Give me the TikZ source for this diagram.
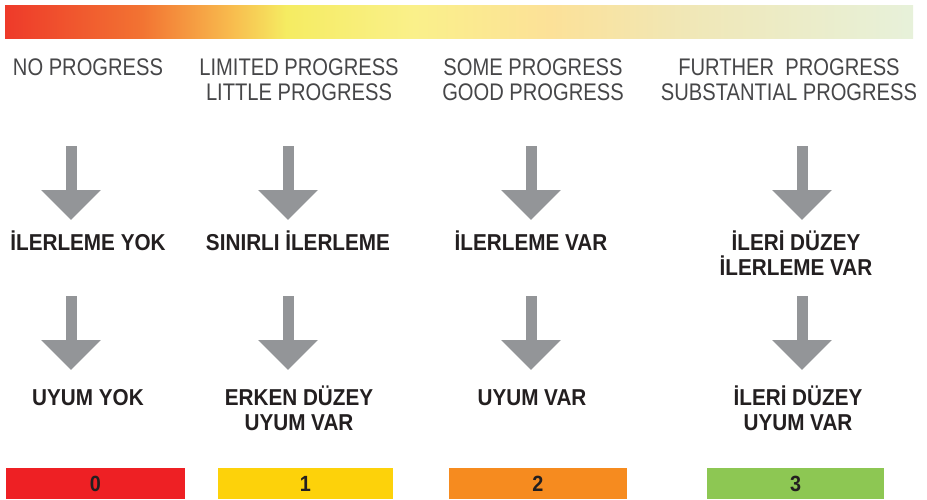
\documentclass[tikz,border=0pt]{standalone}
\usepackage{fontspec}
\setmainfont{Liberation Sans}
\newfontfamily\capfont[FakeStretch=0.84]{Liberation Sans}
\newfontfamily\labfont[FakeStretch=0.9]{Liberation Sans}
\usetikzlibrary{arrows.meta}
\definecolor{capgray}{RGB}{70,70,72}
\definecolor{labblack}{RGB}{35,31,32}
\definecolor{arrowgray}{RGB}{147,149,152}
\definecolor{score0}{RGB}{238,32,36}
\definecolor{score1}{RGB}{253,210,10}
\definecolor{score2}{RGB}{246,139,31}
\definecolor{score3}{RGB}{141,199,83}
\definecolor{gradA}{RGB}{238,58,42}
\definecolor{gradB}{RGB}{242,115,50}
\definecolor{gradC}{RGB}{248,188,78}
\definecolor{gradD}{RGB}{245,236,98}
\definecolor{gradE}{RGB}{250,240,138}
\definecolor{gradF}{RGB}{252,225,152}
\definecolor{gradG}{RGB}{240,231,182}
\definecolor{gradH}{RGB}{231,241,218}
\pgfdeclarehorizontalshading{progress}{100bp}{color(0bp)=(gradA); color(25bp)=(gradA);
  color(32.5bp)=(gradB); color(37.5bp)=(gradC); color(40.5bp)=(gradD); color(47.5bp)=(gradE);
  color(55bp)=(gradF); color(62.5bp)=(gradG); color(75bp)=(gradH); color(100bp)=(gradH)}
\tikzset{%
	caption/.style={
		font=\capfont\fontsize{24}{25}\selectfont,
		text=capgray,
		align=center,
		inner sep=0pt,
		anchor=base
	},
	level/.style={
		font=\labfont\bfseries\fontsize{23}{25}\selectfont,
		text=labblack,
		align=center,
		inner sep=0pt,
		anchor=base
	},
	bigarrow/.style={
		draw=arrowgray,
		line width=11pt,
		-{Triangle[width=58pt,length=30pt]}
	},
	scorebox/.style={
		minimum height=31pt,
		inner sep=0pt,
		text=labblack,
		font=\labfont\bfseries\fontsize{22}{22}\selectfont
	},
}
\begin{document}
\begin{tikzpicture}[x=1pt,y=-1pt]
	\useasboundingbox (0,0) rectangle (927,499);
	
	% colour scale
	\shade[shading=progress] (5,5) rectangle (913,38);
	
	% base anchor sits on the last line
	\node[caption] (c0) at (88,75) {NO PROGRESS};
	\node[caption] (c1) at (299,100) {LIMITED PROGRESS\\LITTLE PROGRESS};
	\node[caption] (c2) at (533,100) {SOME PROGRESS\\GOOD PROGRESS};
	\node[caption] (c3) at (789,100) {FURTHER~~PROGRESS\\SUBSTANTIAL PROGRESS};
	
	\node[level] (p0) at (88,250) {İLERLEME YOK};
	\node[level] (p1) at (298,250) {SINIRLI İLERLEME};
	\node[level] (p2) at (531,250) {İLERLEME VAR};
	\node[level] (p3) at (796,275) {İLERİ DÜZEY\\İLERLEME VAR};
	
	\node[level] (u0) at (88,405) {UYUM YOK};
	\node[level] (u1) at (299,430) {ERKEN DÜZEY\\UYUM VAR};
	\node[level] (u2) at (532,405) {UYUM VAR};
	\node[level] (u3) at (798,430) {İLERİ DÜZEY\\UYUM VAR};
	
	% arrows
	\coordinate (a0) at (71,146);   \coordinate (b0) at (71,220);
	\coordinate (a1) at (288,146);  \coordinate (b1) at (288,220);
	\coordinate (a2) at (531,146);  \coordinate (b2) at (531,220);
	\coordinate (a3) at (802,146);  \coordinate (b3) at (802,220);
	\coordinate (d0) at (71,296);   \coordinate (e0) at (71,370);
	\coordinate (d1) at (288,296);  \coordinate (e1) at (288,370);
	\coordinate (d2) at (531,296);  \coordinate (e2) at (531,370);
	\coordinate (d3) at (802,296);  \coordinate (e3) at (802,370);
	\draw[bigarrow] (a0) -- (b0);
	\draw[bigarrow] (a1) -- (b1);
	\draw[bigarrow] (a2) -- (b2);
	\draw[bigarrow] (a3) -- (b3);
	\draw[bigarrow] (d0) -- (e0);
	\draw[bigarrow] (d1) -- (e1);
	\draw[bigarrow] (d2) -- (e2);
	\draw[bigarrow] (d3) -- (e3);
	
	% scores
	\node[scorebox, fill=score0, minimum width=179pt] (s0) at (95.5,483.5) {0};
	\node[scorebox, fill=score1, minimum width=175pt] (s1) at (305.5,483.5) {1};
	\node[scorebox, fill=score2, minimum width=178pt] (s2) at (538,483.5) {2};
	\node[scorebox, fill=score3, minimum width=177pt] (s3) at (795.5,483.5) {3};
\end{tikzpicture}
\end{document}
